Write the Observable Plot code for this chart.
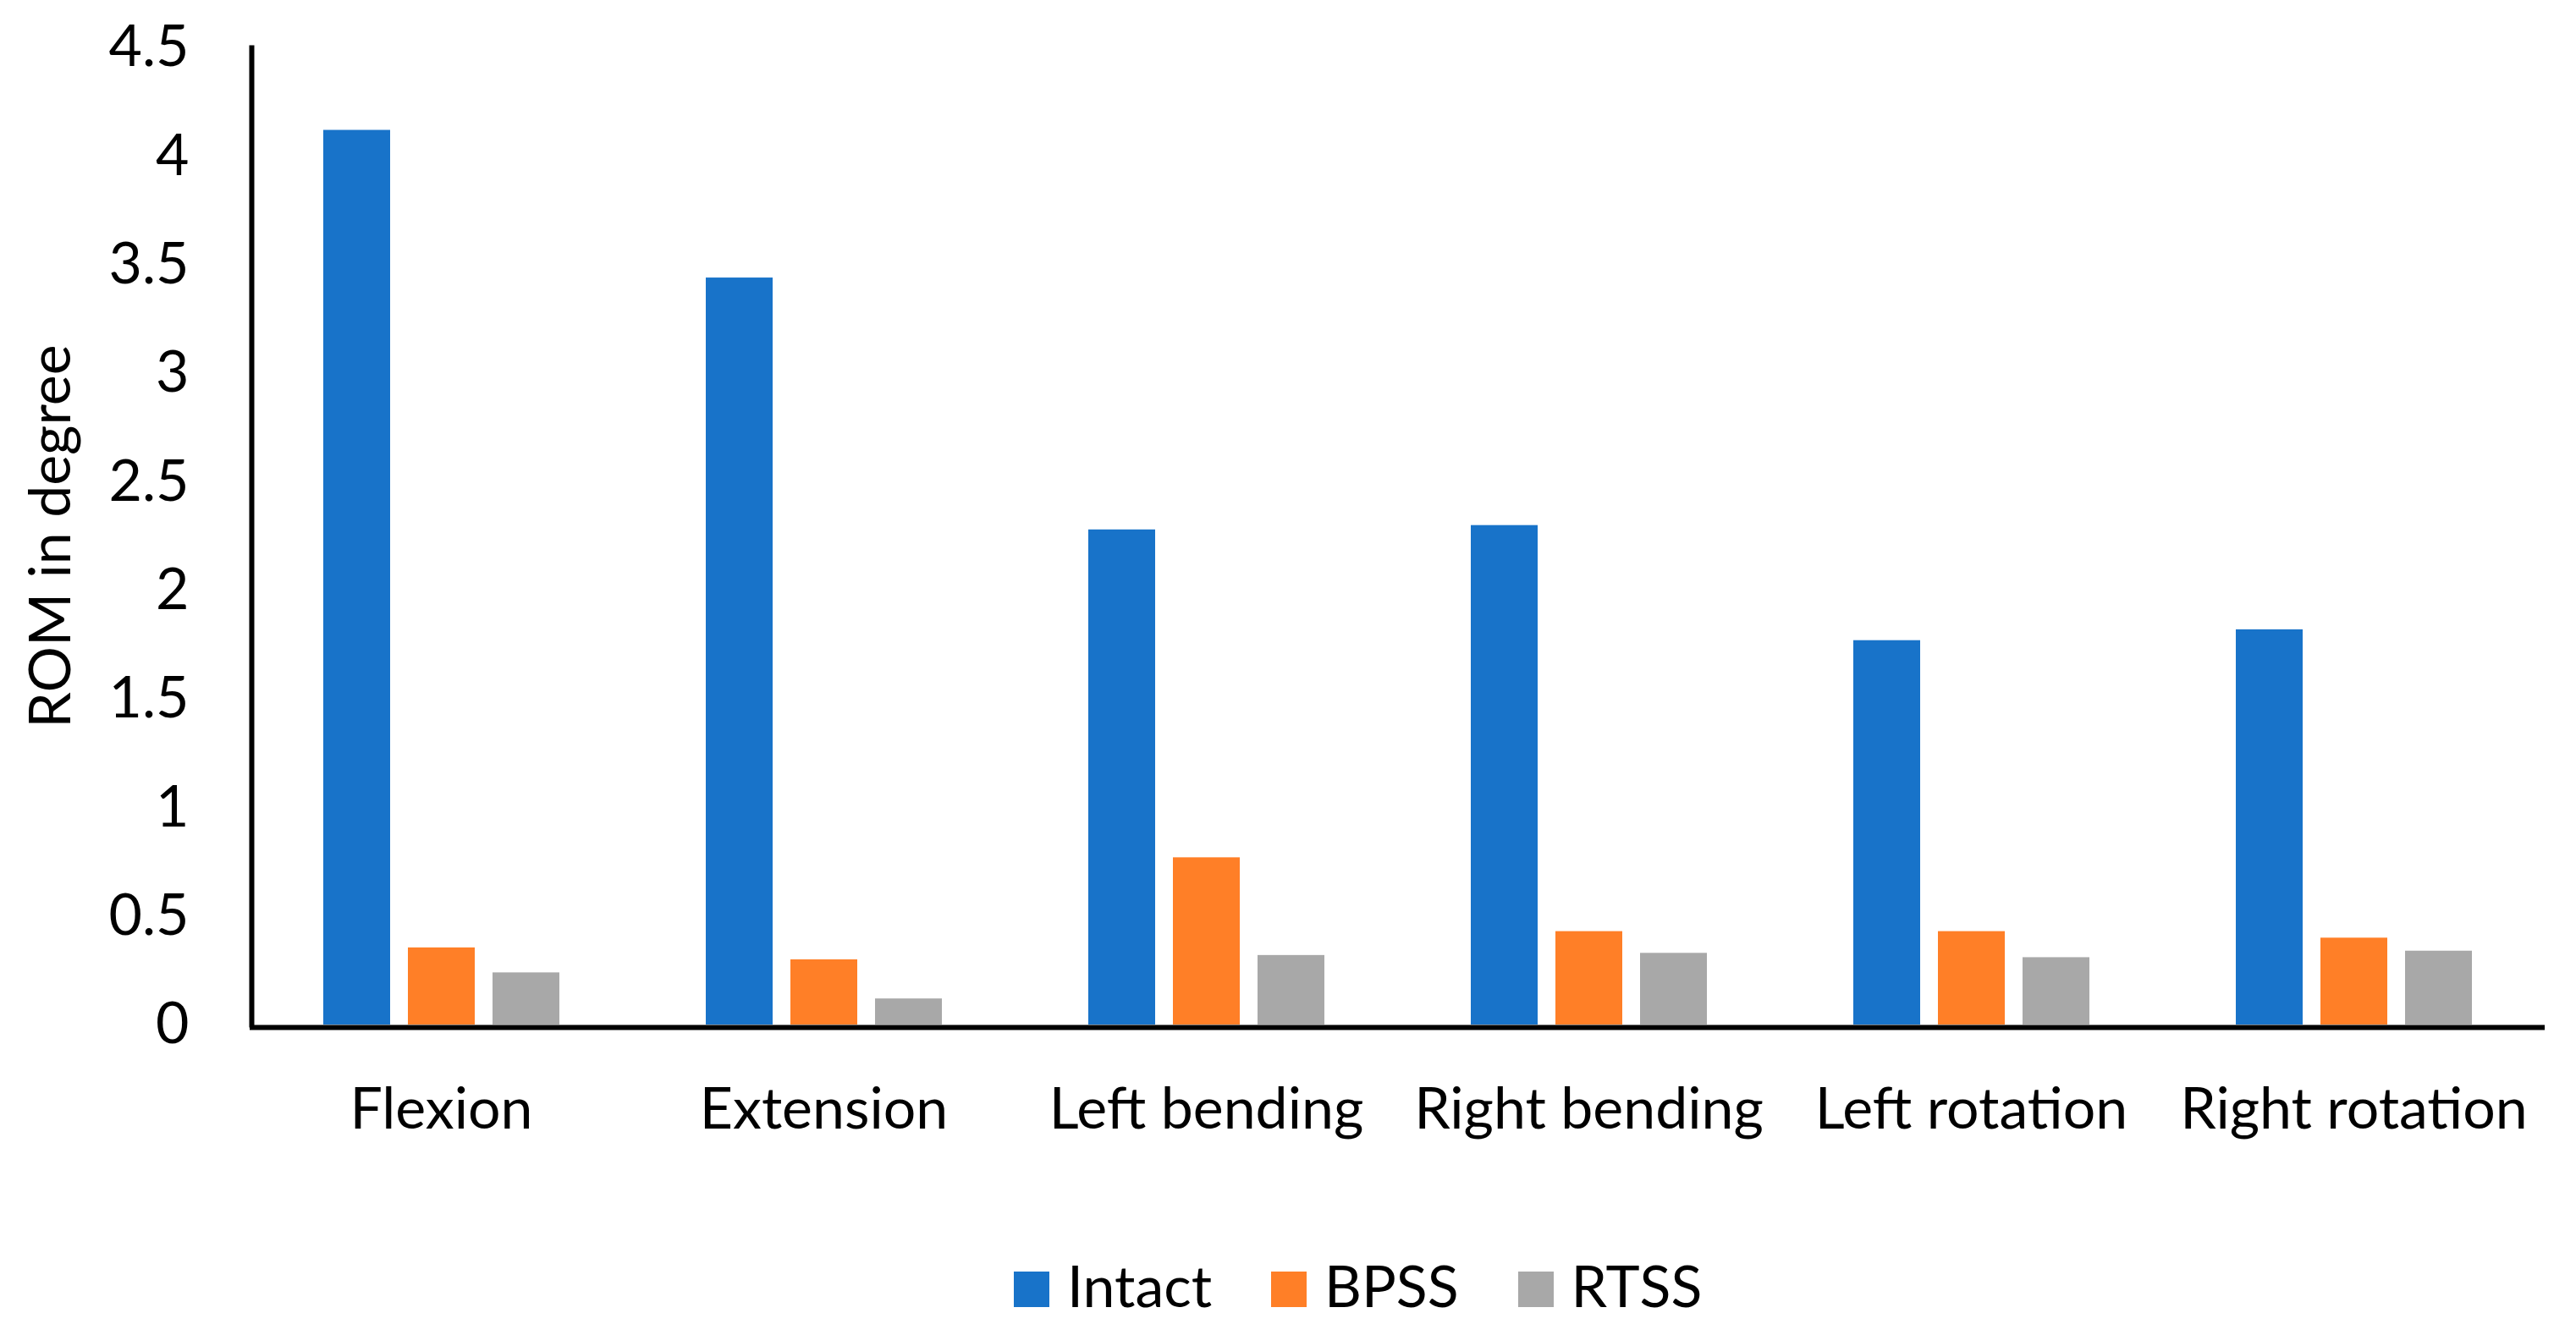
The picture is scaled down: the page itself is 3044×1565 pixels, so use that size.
<!DOCTYPE html>
<html>
<head>
<meta charset="utf-8">
<script src="https://cdn.jsdelivr.net/npm/d3@7"></script>
<script src="https://cdn.jsdelivr.net/npm/@observablehq/plot@0.6"></script>
<style>
  html, body { margin: 0; padding: 0; background: white; }
  #wrap { position: relative; width: 3044px; height: 1565px; overflow: hidden; font-family: Lato, sans-serif; }
  #legend { position: absolute; left: 1198px; top: 1485px; display: flex; align-items: baseline; font-size: 68px; line-height: 68px; color: black; }
  .item { display: flex; align-items: baseline; margin-right: 70px; }
  .sw { width: 42px; height: 42px; margin-right: 21px; }
</style>
</head>
<body>
<div id="wrap"><div id="chart"></div><div id="legend"></div></div>
<script>
const categories = ["Flexion", "Extension", "Left bending", "Right bending", "Left rotation", "Right rotation"];
const series = ["Intact", "BPSS", "RTSS"];
const intact = [4.12, 3.44, 2.28, 2.30, 1.77, 1.82];
const bpss = [0.355, 0.30, 0.77, 0.43, 0.43, 0.40];
const rtss = [0.24, 0.12, 0.32, 0.33, 0.31, 0.34];
const colors = ["#1873C9", "#FF7F27", "#A8A8A8"];
const yTicks = [0, 0.5, 1, 1.5, 2, 2.5, 3, 3.5, 4, 4.5];

const seriesValues = [intact, bpss, rtss];
const data = categories.flatMap((c, i) => series.map((s, j) => ({cat: c, series: s, value: seriesValues[j][i]})));

const chart = Plot.plot({
  width: 3044,
  height: 1460,
  marginLeft: 293,
  marginRight: 35,
  marginTop: 56,
  marginBottom: 249,
  style: {fontFamily: "Lato, sans-serif", fontSize: "68px", color: "black", background: "white", overflow: "visible"},
  fx: {domain: categories, padding: 0, label: null},
  x: {domain: series, paddingInner: 0.21, paddingOuter: 0.846, axis: null},
  y: {domain: [0, 4.5]},
  color: {domain: series, range: colors},
  marks: [
    Plot.barY(data, {fx: "cat", x: "series", y: "value", fill: "series"}),
    Plot.axisFx({anchor: "bottom", tickSize: 0, tickPadding: 74, label: null}),
    Plot.axisY({ticks: yTicks, tickFormat: d => String(d), tickSize: 0, tickPadding: 72,
      label: "ROM in degree", labelAnchor: "center", labelArrow: "none", labelOffset: 261}),
    Plot.ruleY([0], {stroke: "black", strokeWidth: 6, dy: 3}),
    Plot.frame({anchor: "left", facetAnchor: "left", stroke: "black", strokeWidth: 6, dx: 2})
  ]
});
document.getElementById("chart").appendChild(chart);

const legend = document.getElementById("legend");
series.forEach((s, i) => {
  const item = document.createElement("div");
  item.className = "item";
  const sw = document.createElement("div");
  sw.className = "sw";
  sw.style.background = colors[i];
  const t = document.createElement("span");
  t.textContent = s;
  item.appendChild(sw);
  item.appendChild(t);
  legend.appendChild(item);
});
</script>
</body>
</html>
